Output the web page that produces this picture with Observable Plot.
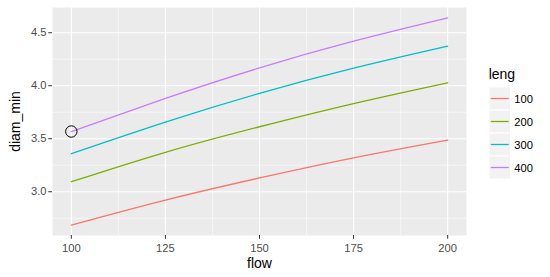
<!DOCTYPE html>
<html>
<head>
<meta charset="utf-8">
<script src="https://cdn.jsdelivr.net/npm/d3@7"></script>
<script src="https://cdn.jsdelivr.net/npm/@observablehq/plot@0.6"></script>
<style>
  html, body { margin: 0; padding: 0; background: #fff; }
  #wrap { position: relative; width: 550px; height: 277px; font-family: "Liberation Sans", Arial, Helvetica, sans-serif; }
  #legend { position: absolute; left: 0; top: 0; }
</style>
</head>
<body>
<div id="wrap"><svg id="legend" width="550" height="277"></svg></div>
<script>
// ---- data ----
const flow = [100, 125, 150, 175, 200];
const lengLevels = ["100", "200", "300", "400"];
const diam100 = [2.685, 2.921, 3.130, 3.320, 3.487];
const diam200 = [3.094, 3.372, 3.613, 3.832, 4.028];
const diam300 = [3.359, 3.657, 3.928, 4.166, 4.374];
const diam400 = [3.568, 3.880, 4.168, 4.420, 4.640];
const colors = ["#F8766D", "#7CAE00", "#00BFC4", "#C77CFF"];
const xTicks = [100, 125, 150, 175, 200];
const xMinor = [112.5, 137.5, 162.5, 187.5];
const yTicks = [3.0, 3.5, 4.0, 4.5];
const yMinor = [2.75, 3.25, 3.75, 4.25];
const highlightFlow = [100];
const highlightDiam = [3.568];

// ---- build tables ----
const series = [diam100, diam200, diam300, diam400];
const rows = [];
series.forEach((vals, i) => vals.forEach((v, j) => rows.push({flow: flow[j], diam_min: v, leng: lengLevels[i]})));
const highlight = highlightFlow.map((f, i) => ({flow: f, diam_min: highlightDiam[i]}));

const chart = Plot.plot({
  width: 550,
  height: 277,
  marginLeft: 52,
  marginRight: 84,
  marginTop: 7,
  marginBottom: 42,
  style: {fontFamily: "Liberation Sans, Arial, Helvetica, sans-serif", fontSize: "11.2px", background: "#fff", color: "#4D4D4D"},
  x: {domain: [95, 205]},
  y: {domain: [2.587, 4.738]},
  color: {domain: lengLevels, range: colors},
  marks: [
    Plot.frame({fill: "#EBEBEB", stroke: "none"}),
    Plot.gridX(xMinor, {stroke: "#fff", strokeOpacity: 1, strokeWidth: 0.55}),
    Plot.gridY(yMinor, {stroke: "#fff", strokeOpacity: 1, strokeWidth: 0.55}),
    Plot.gridX(xTicks, {stroke: "#fff", strokeOpacity: 1, strokeWidth: 1.1}),
    Plot.gridY(yTicks, {stroke: "#fff", strokeOpacity: 1, strokeWidth: 1.1}),
    Plot.axisX({ticks: xTicks, tickSize: 3.7, tickPadding: 4.5, stroke: "#333333", fill: "#4D4D4D", label: null, tickFormat: d3.format("d")}),
    Plot.axisY({ticks: yTicks, tickSize: 3.7, tickPadding: 2.3, stroke: "#333333", fill: "#4D4D4D", label: null, tickFormat: d3.format(".1f")}),
    Plot.line(rows, {x: "flow", y: "diam_min", z: "leng", stroke: "leng", strokeWidth: 1.3, curve: "natural"}),
    Plot.dot(highlight, {x: "flow", y: "diam_min", r: 5.7, stroke: "#000", strokeWidth: 1, fill: "none"}),
    Plot.text(["flow"], {frameAnchor: "bottom", dy: 32.5, fontSize: 14, fill: "#000", textAnchor: "middle"}),
    Plot.text(["diam_min"], {frameAnchor: "left", dx: -37, rotate: -90, fontSize: 14, fill: "#000", textAnchor: "middle"})
  ]
});
document.getElementById("wrap").prepend(chart);

// ---- legend (SVG overlay, built from the same arrays) ----
const lg = d3.select("#legend")
  .style("font-family", "Liberation Sans, Arial, Helvetica, sans-serif");
lg.append("text")
  .attr("x", 488.7).attr("y", 73.5)
  .attr("dominant-baseline", "central")
  .attr("font-size", 14).attr("fill", "#000")
  .text("leng");
const keyH = 23, keyTop = 87, keyLeft = 489, keyW = 21.5;
lengLevels.forEach((lv, i) => {
  const top = keyTop + i * keyH;
  lg.append("rect")
    .attr("x", keyLeft).attr("y", top).attr("width", keyW).attr("height", keyH)
    .attr("fill", "#F2F2F2").attr("stroke", "#fff").attr("stroke-width", 1);
  lg.append("line")
    .attr("x1", keyLeft + 1.8).attr("x2", keyLeft + keyW - 1.8)
    .attr("y1", top + keyH / 2).attr("y2", top + keyH / 2)
    .attr("stroke", colors[i]).attr("stroke-width", 1.3);
  lg.append("text")
    .attr("x", 514.3).attr("y", top + keyH / 2)
    .attr("dominant-baseline", "central")
    .attr("font-size", 11.2).attr("fill", "#000")
    .text(lv);
});
</script>
</body>
</html>
